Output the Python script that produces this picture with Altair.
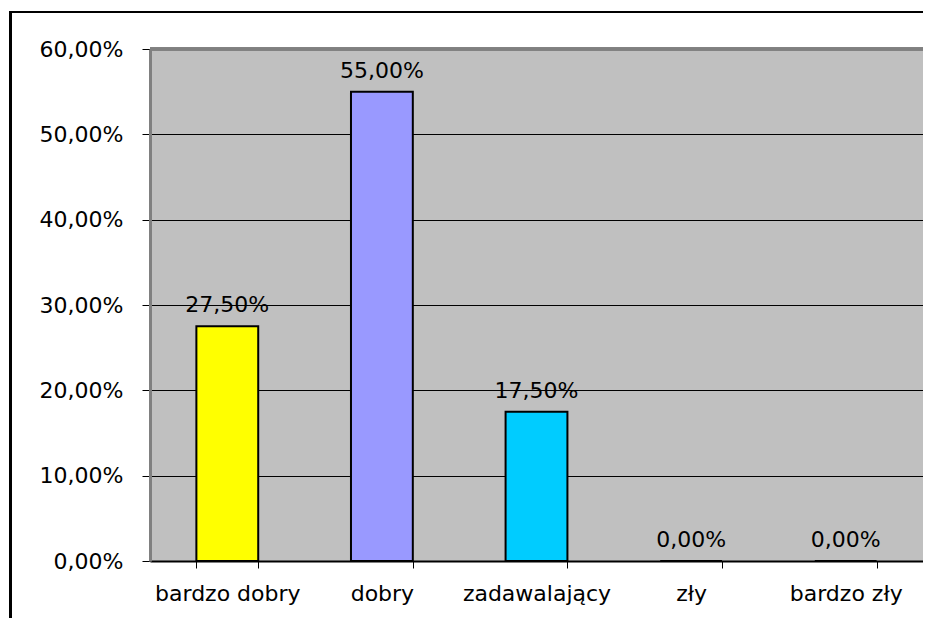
import altair as alt
import pandas as pd

categories = ["bardzo dobry", "dobry", "zadawalający", "zły", "bardzo zły"]
values = [27.5, 55.0, 17.5, 0.0, 0.0]
colors = ["#FFFF00", "#9999FF", "#00CCFF", "#FFFFFF", "#FFFFFF"]
y_ticks = [0, 10, 20, 30, 40, 50, 60]

df = pd.DataFrame({
    "kategoria": categories,
    "wartosc": values,
    "kolor": colors,
    "etykieta": [f"{v:.2f}%".replace(".", ",") for v in values],
})

FONT = "DejaVu Sans"
FS = 22
W, H = 773, 512

x_enc = alt.X(
    "kategoria:N",
    sort=categories,
    scale=alt.Scale(paddingInner=0.6, paddingOuter=0.3),
    axis=alt.Axis(
        title=None, labelAngle=0, labelFont=FONT, labelFontSize=FS, labelColor="#000000",
        labelPadding=15, tickBand="extent", tickSize=7, tickColor="#000000", tickWidth=1,
        domainColor="#000000", domainWidth=2, grid=False,
    ),
)
y_scale = alt.Scale(domain=[0, 60])
y_enc = alt.Y(
    "wartosc:Q",
    scale=y_scale,
    axis=alt.Axis(
        title=None, values=y_ticks, labelFont=FONT, labelFontSize=FS, labelColor="#000000",
        labelExpr="replace(format(datum.value, '.2f'), '.', ',') + '%'",
        labelPadding=19, tickSize=8, tickColor="#000000", tickWidth=1,
        domainColor="#808080", domainWidth=3,
        grid=True, gridColor="#000000", gridWidth=1, gridOpacity=1,
    ),
)

bars = alt.Chart(df).mark_bar(stroke="#000000", strokeWidth=2).encode(
    x=x_enc,
    y=y_enc,
    color=alt.Color("kolor:N", scale=None),
)

labels = alt.Chart(df).mark_text(
    font=FONT, fontSize=FS, color="#000000", baseline="alphabetic", dy=-14
).encode(
    x=alt.X("kategoria:N", sort=categories),
    y=alt.Y("wartosc:Q", scale=y_scale),
    text="etykieta:N",
)

top_border = alt.Chart(df).mark_rule(color="#808080", strokeWidth=3).encode(
    y=alt.datum(60)
)

frame_left = alt.Chart(df).mark_rule(color="#000000", strokeWidth=3).encode(
    x=alt.value(-139.5), y=alt.value(-37), y2=alt.value(575)
)
frame_top = alt.Chart(df).mark_rule(color="#000000", strokeWidth=2).encode(
    x=alt.value(-141), x2=alt.value(W), y=alt.value(-37)
)

chart = alt.layer(bars, labels, top_border, frame_left, frame_top).properties(
    width=W,
    height=H,
    autosize="none",
    padding={"left": 142, "top": 41, "right": 0, "bottom": 57},
    background="#FFFFFF",
).configure_view(
    fill="#C0C0C0", stroke=None
)

chart.save("out.html", embed_options={"renderer": "svg", "actions": False})
